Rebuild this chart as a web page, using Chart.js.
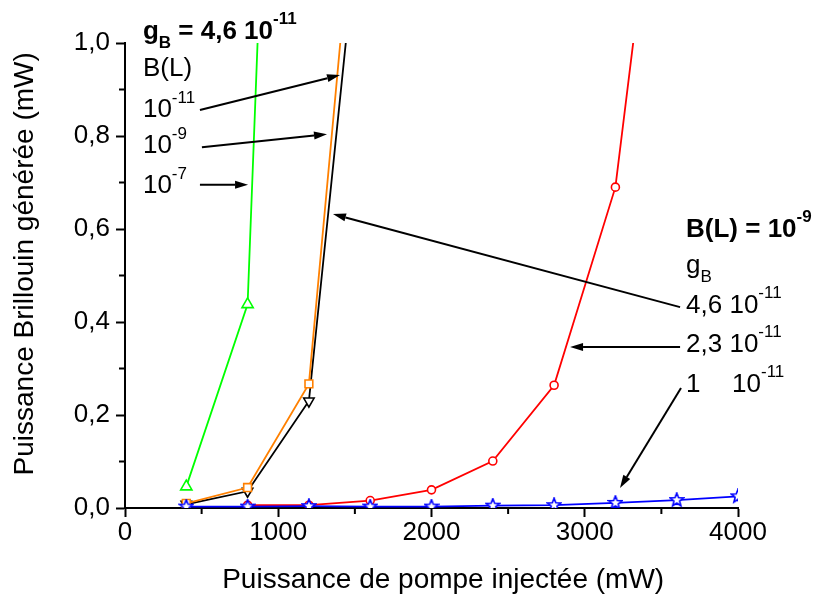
<!DOCTYPE html>
<html>
<head>
<meta charset="utf-8">
<script src="https://cdn.jsdelivr.net/npm/chart.js@4.4.0/dist/chart.umd.min.js"></script>
<style>
  html, body { margin: 0; padding: 0; background: #fff; }
  #wrap { width: 815px; height: 597px; }
</style>
</head>
<body>
<div id="wrap"><canvas id="myChart" width="815" height="597"></canvas></div>
<script>
// puissance de pompe (mW)
const pompe = [400, 800, 1200, 1600, 2000, 2400, 2800, 3200, 3600, 4000];
// gB = 4,6 10-11 avec B(L) = 1e-7, 1e-9, 1e-11
const vertBL7 = [0.046, 0.438, 3.9];
const orangeBL9 = [0.010, 0.044, 0.267, 1.70];
const noirBL11 = [0.008, 0.036, 0.23, 1.51];
// B(L) = 1e-9 avec gB = 2,3 10-11 et 1 10-11
const rougeG23 = [null, 0.006, 0.006, 0.016, 0.039, 0.101, 0.264, 0.69, 1.76, null];
const bleuG1 = [0.003, 0.003, 0.004, 0.003, 0.003, 0.005, 0.006, 0.011, 0.017, 0.025];

const FONT = '"Liberation Sans", Arial, sans-serif';

// fleches (coordonnees des donnees) : x0, y0 -> x1, y1
const fleches = [
  [489, 0.856, 1403, 0.931],
  [502, 0.776, 1318, 0.804],
  [489, 0.695, 803, 0.695],
  [3622, 0.432, 1357, 0.632],
  [3622, 0.346, 2904, 0.346],
  [3628, 0.258, 3230, 0.043]
];
// textes : [texte, taille, gras, decalage vertical, position x absolue]
const notes = [
  { x: 117, y: 1.008, runs: [['g', 26, 1], ['B', 17, 1, 9], [' = 4,6 10', 26, 1], ['-11', 17, 1, -15]] },
  { x: 117, y: 0.929, runs: [['B(L)', 26]] },
  { x: 117, y: 0.8415, runs: [['10', 26], ['-11', 17, 0, -14]] },
  { x: 117, y: 0.763, runs: [['10', 26], ['-9', 17, 0, -14]] },
  { x: 117, y: 0.678, runs: [['10', 26], ['-7', 17, 0, -14]] },
  { x: 3661, y: 0.583, runs: [['B(L) = 10', 26, 1], ['-9', 17, 1, -15]] },
  { x: 3661, y: 0.505, runs: [['g', 26], ['B', 17, 0, 9]] },
  { x: 3661, y: 0.419, runs: [['4,6 10', 26], ['-11', 17, 0, -15]] },
  { x: 3661, y: 0.335, runs: [['2,3 10', 26], ['-11', 17, 0, -15]] },
  { x: 3661, y: 0.249, runs: [['1', 26], ['10', 26, 0, 0, 46], ['-11', 17, 0, -15]] }
];

function toPoints(vals) {
  return vals.map((v, i) => ({ x: pompe[i], y: v })).filter(p => p.y !== null);
}

const etoile = (function () {
  const c = document.createElement('canvas');
  c.width = 16; c.height = 16;
  const g = c.getContext('2d');
  g.strokeStyle = '#0000ff';
  g.lineWidth = 1.6;
  g.fillStyle = '#fff';
  g.beginPath();
  for (let k = 0; k < 10; k++) {
    const r = k % 2 === 0 ? 7 : 3;
    const a = -Math.PI / 2 + k * Math.PI / 5;
    const px = 8 + r * Math.cos(a), py = 8 + r * Math.sin(a);
    if (k === 0) g.moveTo(px, py); else g.lineTo(px, py);
  }
  g.closePath();
  g.fill();
  g.stroke();
  return c;
})();

const annotations = {
  id: 'annotations',
  afterDraw(chart) {
    const ctx = chart.ctx;
    const xs = chart.scales.x, ys = chart.scales.y;
    const area = chart.chartArea;
    ctx.save();
    ctx.strokeStyle = '#000000';
    ctx.lineWidth = 2;
    // graduations secondaires
    ctx.beginPath();
    for (let v = 500; v < 4000; v += 1000) {
      const p = xs.getPixelForValue(v);
      ctx.moveTo(p, area.bottom);
      ctx.lineTo(p, area.bottom + 6);
    }
    for (let i = 1; i < 10; i += 2) {
      const p = ys.getPixelForValue(i / 10);
      ctx.moveTo(area.left, p);
      ctx.lineTo(area.left - 6, p);
    }
    ctx.stroke();
    // fleches
    ctx.fillStyle = '#000';
    fleches.forEach(f => {
      const x0 = xs.getPixelForValue(f[0]), y0 = ys.getPixelForValue(f[1]);
      const x1 = xs.getPixelForValue(f[2]), y1 = ys.getPixelForValue(f[3]);
      const a = Math.atan2(y1 - y0, x1 - x0);
      const L = 13, W = 4;
      const bx = x1 - L * Math.cos(a), by = y1 - L * Math.sin(a);
      ctx.beginPath();
      ctx.moveTo(x0, y0);
      ctx.lineTo(bx, by);
      ctx.stroke();
      ctx.beginPath();
      ctx.moveTo(x1, y1);
      ctx.lineTo(bx + W * Math.sin(a), by - W * Math.cos(a));
      ctx.lineTo(bx - W * Math.sin(a), by + W * Math.cos(a));
      ctx.closePath();
      ctx.fill();
    });
    // textes
    ctx.textBaseline = 'alphabetic';
    ctx.textAlign = 'left';
    notes.forEach(n => {
      const x = xs.getPixelForValue(n.x), y = ys.getPixelForValue(n.y);
      let cx = x;
      n.runs.forEach(r => {
        ctx.font = (r[2] ? 'bold ' : '') + r[1] + 'px ' + FONT;
        if (r[4] !== undefined) cx = x + r[4];
        ctx.fillText(r[0], cx, y + (r[3] || 0));
        cx += ctx.measureText(r[0]).width;
      });
    });
    ctx.restore();
  }
};

const serie = (label, vals, color, style, extra) => Object.assign({
  label: label,
  data: toPoints(vals),
  borderColor: color,
  backgroundColor: '#fff',
  borderWidth: 1.8,
  pointStyle: style,
  pointRadius: 5,
  pointBorderWidth: 1.6,
  pointBorderColor: color,
  pointBackgroundColor: '#fff',
  tension: 0
}, extra || {});

const axisGrid = {
  display: true,
  drawOnChartArea: false,
  drawTicks: true,
  tickLength: 9,
  tickWidth: 2,
  tickColor: '#000'
};

const ctx = document.getElementById('myChart').getContext('2d');
const myChart = new Chart(ctx, {
  type: 'line',
  data: {
    datasets: [
      serie('gB = 1 10-11', bleuG1, '#0000ff', etoile),
      serie('gB = 2,3 10-11', rougeG23, '#ff0000', 'circle', { pointRadius: 4 }),
      serie('B(L) = 10-9', orangeBL9, '#ff8000', 'rect', { pointRadius: 5.5 }),
      serie('B(L) = 10-11', noirBL11, '#000000', 'triangle', { pointRadius: 6, pointRotation: 180 }),
      serie('B(L) = 10-7', vertBL7, '#00ff00', 'triangle', { pointRadius: 6.5 })
    ]
  },
  options: {
    responsive: false,
    animation: false,
    layout: { padding: { left: 0, top: 43, right: 77, bottom: 0 } },
    plugins: {
      legend: { display: false },
      tooltip: { enabled: false }
    },
    scales: {
      x: {
        type: 'linear',
        min: 0,
        max: 4000,
        afterFit: s => { s.height = 89; },
        grid: axisGrid,
        border: { display: true, color: '#000', width: 2 },
        ticks: {
          stepSize: 1000,
          padding: 0,
          color: '#000',
          font: { family: FONT, size: 26 },
          maxRotation: 0,
          callback: v => String(v)
        },
        title: {
          display: true,
          text: '   Puissance de pompe injectée (mW)',
          color: '#000',
          font: { family: FONT, size: 28 },
          padding: { top: 0, bottom: 0 }
        }
      },
      y: {
        min: 0,
        max: 1,
        afterFit: s => { s.width = 125; },
        grid: axisGrid,
        border: { display: true, color: '#000', width: 2 },
        ticks: {
          stepSize: 0.2,
          padding: 6,
          color: '#000',
          font: { family: FONT, size: 26 },
          callback: v => v.toFixed(1).replace('.', ',')
        },
        title: {
          display: true,
          text: '   Puissance Brillouin générée (mW)',
          color: '#000',
          font: { family: FONT, size: 28 },
          padding: { top: 8, bottom: 0 }
        }
      }
    }
  },
  plugins: [annotations]
});
</script>
</body>
</html>
